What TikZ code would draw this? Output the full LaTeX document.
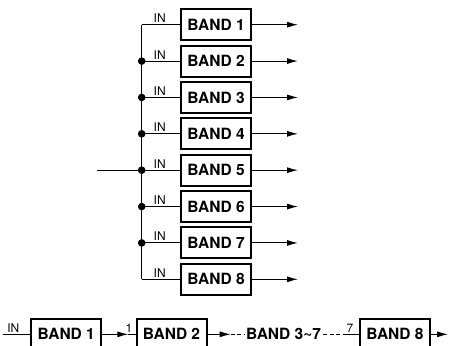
\documentclass[tikz,border=0pt]{standalone}
\usepackage{fontspec}
\setmainfont{TeX Gyre Heros}
\usetikzlibrary{arrows.meta}
\begin{document}
\begin{tikzpicture}[x=1bp,y=-1bp,
    band/.style={draw,line width=2bp,minimum width=70bp,minimum height=31bp,
      inner sep=0pt,font=\fontsize{15.5bp}{18bp}\selectfont\bfseries},
    sig/.style={line width=1bp},
    arr/.style={sig,-{Latex[length=11bp,width=6bp]}},
    dots/.style={sig,dash pattern=on 4bp off 2.5bp},
    lbl/.style={above,inner sep=1.5bp,font=\fontsize{12bp}{14bp}\selectfont}]
  \useasboundingbox (0,0) rectangle (450,345);
  % Baender parallel
  \foreach \i in {1,...,8} {
    \node[band] (b\i) at (216,{24.7+(\i-1)*36.37}) {BAND \i};
    \coordinate (s\i) at (141.7,{24.7+(\i-1)*36.37});
    \coordinate (o\i) at (298,{24.7+(\i-1)*36.37});
    \draw[sig] (s\i) -- node[lbl,pos=0.47] {IN} (b\i.west);
    \draw[arr] (b\i.east) -- (o\i);
  }
  \draw[sig] (s1) -- (s8);
  \foreach \i in {2,...,7}
    \fill (s\i) circle (3.8bp);
  \coordinate (in) at (96.7,{24.7+4*36.37});
  \draw[sig] (in) -- (s5);
  % Baender in Reihe
  \node[band] (c1) at (66.2,334.3) {BAND 1};
  \node[band] (c2) at (171.5,334.3) {BAND 2};
  \node[inner sep=2bp,font=\fontsize{15.5bp}{18bp}\selectfont\bfseries] (c3) at (283.5,334.3) {BAND 3\raisebox{1.5bp}{\textasciitilde}7};
  \node[band] (c8) at (394.9,334.3) {BAND 8};
  \coordinate (cin) at (3,334.3);
  \coordinate (t1) at (128.3,334.3);
  \coordinate (t2) at (230.7,334.3);
  \coordinate (t3) at (347,334.3);
  \coordinate (out) at (448,334.3);
  \draw[sig] (cin) -- node[lbl,pos=0.38] {IN} (c1.west);
  \draw[arr] (c1.east) -- (t1);
  \draw[sig] (t1) -- node[lbl,pos=0.1] {1} (c2.west);
  \draw[arr] (c2.east) -- (t2);
  \draw[dots] (t2) -- (c3.west);
  \draw[dots] (c3.east) -- (t3);
  \draw[sig] (t3) -- node[lbl,pos=0.25] {7} (c8.west);
  \draw[arr] (c8.east) -- (out);
\end{tikzpicture}
\end{document}
